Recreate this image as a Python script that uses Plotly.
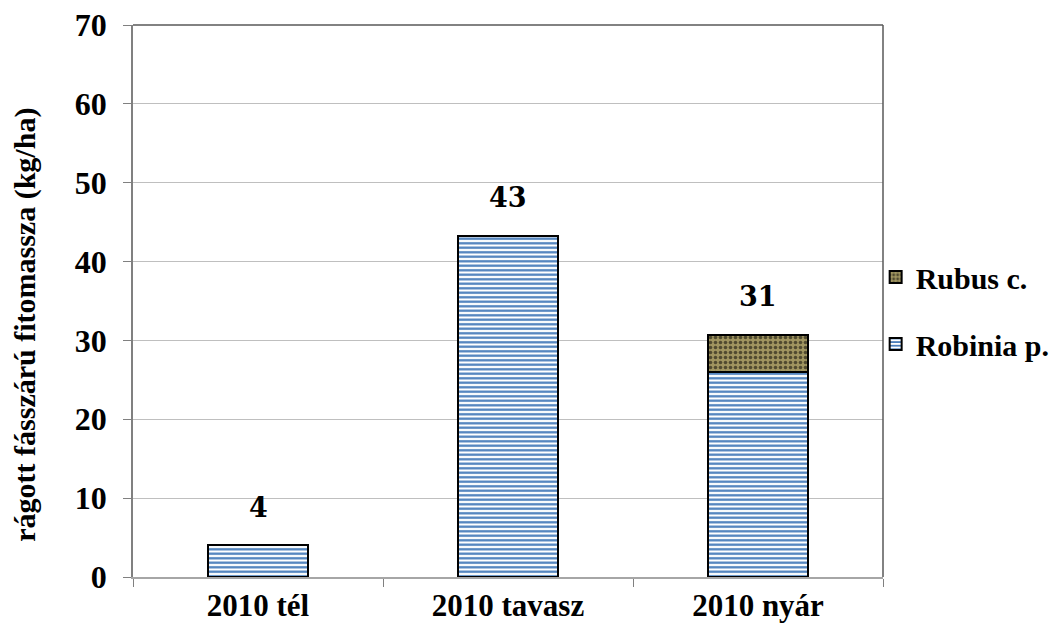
import plotly.graph_objects as go

categories = ["2010 tél", "2010 tavasz", "2010 nyár"]
robinia = [4.0, 43.3, 26.0]
rubus = [0.0, 0.0, 4.7]
y_title = "rágott fásszárú fitomassza (kg/ha)"
y_ticks = [0, 10, 20, 30, 40, 50, 60, 70]

totals = [a + b for a, b in zip(robinia, rubus)]

serif = "Liberation Serif, Times New Roman, serif"

fig = go.Figure()
fig.add_trace(go.Bar(
    name="Robinia p.", x=categories, y=robinia, width=0.4, legendgroup="rob",
    legendrank=2,
    marker=dict(color="white", line=dict(color="black", width=2),
                pattern=dict(shape="-", fgcolor="#4A7EBB", bgcolor="white",
                             size=4.5, solidity=0.5, fgopacity=1)),
))
fig.add_trace(go.Bar(
    name="Rubus c.", x=categories, y=rubus, width=0.4, legendgroup="rub",
    legendrank=1,
    marker=dict(color="#948A54", line=dict(color="black", width=2),
                pattern=dict(shape=".", fgcolor="black", bgcolor="#A09560",
                             size=5, solidity=0.4)),
))

for c, t in zip(categories, totals):
    fig.add_annotation(x=c, y=t, text=f"{round(t)}", showarrow=False,
                       yshift=38,
                       font=dict(family="DejaVu Serif", size=27, color="black", weight="bold"))

fig.add_annotation(xref="paper", yref="paper", x=-0.144, y=0.457, text=y_title,
                   textangle=-90, showarrow=False, xanchor="center", yanchor="middle",
                   borderpad=0,
                   font=dict(family=serif, size=30, color="black", weight="bold"))

fig.update_layout(
    barmode="stack",
    width=1062, height=630,
    margin=dict(l=125, r=187, t=17, b=61, autoexpand=False),
    plot_bgcolor="white", paper_bgcolor="white",
    font=dict(family=serif, color="black"),
    legend=dict(traceorder="grouped", xref="container", yref="container",
                x=0.817, y=0.52, xanchor="left", yanchor="middle",
                font=dict(family=serif, size=30, color="black", weight="bold"),
                tracegroupgap=25, itemsizing="constant", itemwidth=30,
                bgcolor="rgba(0,0,0,0)"),
    showlegend=True,
)
fig.update_xaxes(
    showline=True, linecolor="#A6A6A6", linewidth=1.5, mirror=False,
    ticks="outside", tickson="boundaries", ticklen=8, tickcolor="#808080",
    tickfont=dict(family=serif, size=31, color="black", weight="bold"),
    automargin=False, ticklabeloverflow="allow",
)
fig.update_yaxes(
    range=[0, 70], tickvals=y_ticks, showgrid=True, gridcolor="#BFBFBF", gridwidth=1,
    showline=True, linecolor="#808080", linewidth=1.5,
    ticks="outside", ticklen=8, tickcolor="#808080",
    tickfont=dict(family=serif, size=32, color="black", weight="bold"),
    zeroline=False, automargin=False, ticklabeloverflow="allow",
    ticklabelstandoff=10,
)
# frame top/right
fig.add_shape(type="line", xref="paper", yref="paper", x0=0, x1=1, y0=1, y1=1,
              line=dict(color="#595959", width=1.5))
fig.add_shape(type="line", xref="paper", yref="paper", x0=1, x1=1, y0=0, y1=1,
              line=dict(color="#595959", width=1.5))

fig.write_html("out.html")
